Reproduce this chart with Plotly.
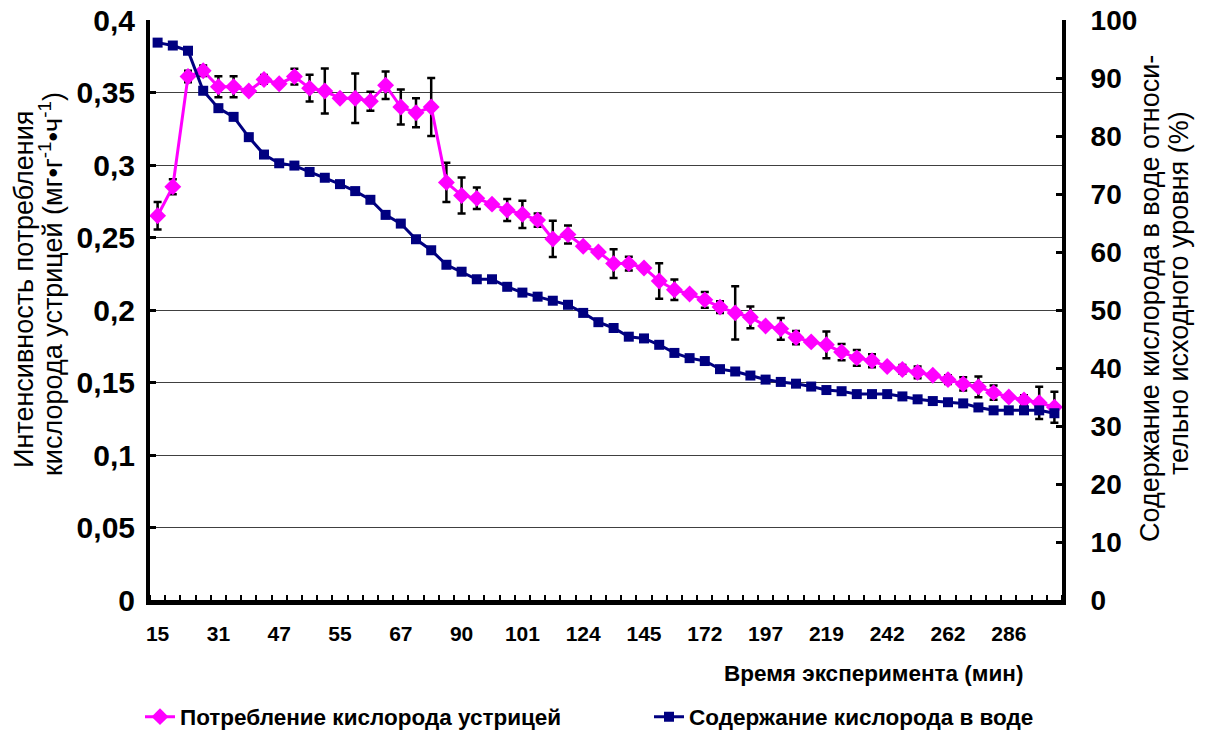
import plotly.graph_objects as go

tick_labels = ["15", "31", "47", "55", "67", "90", "101", "124", "145", "172",
               "197", "219", "242", "262", "286"]

consumption = [0.265, 0.285, 0.361, 0.365, 0.354, 0.354, 0.351, 0.359, 0.356, 0.361,
               0.353, 0.351, 0.346, 0.346, 0.344, 0.355, 0.340, 0.336, 0.340, 0.288,
               0.279, 0.277, 0.273, 0.269, 0.266, 0.262, 0.249, 0.252, 0.244, 0.240,
               0.232, 0.232, 0.229, 0.220, 0.214, 0.211, 0.207, 0.202, 0.198, 0.195,
               0.189, 0.187, 0.181, 0.178, 0.176, 0.171, 0.167, 0.165, 0.161, 0.159,
               0.157, 0.155, 0.152, 0.149, 0.147, 0.143, 0.140, 0.138, 0.136, 0.133]

consumption_err = [0.0094, 0.0052, 0.004, 0.0037, 0.0072, 0.0072, 0.0, 0.003, 0.0, 0.0054,
                   0.0092, 0.0155, 0.0, 0.0171, 0.0066, 0.0095, 0.012, 0.010, 0.020, 0.0135,
                   0.0124, 0.0074, 0.0, 0.0076, 0.0094, 0.0046, 0.0125, 0.0062, 0.0, 0.0,
                   0.0099, 0.0048, 0.0, 0.0123, 0.0071, 0.0, 0.0054, 0.004, 0.0184, 0.0075,
                   0.0, 0.0075, 0.0046, 0.0, 0.0092, 0.0056, 0.0055, 0.0045, 0.0, 0.003,
                   0.004, 0.0, 0.003, 0.0046, 0.0071, 0.0049, 0.0, 0.0032, 0.0111, 0.0107]

oxygen_pct = [96.1, 95.6, 94.7, 87.8, 84.8, 83.3, 79.8, 76.8, 75.3, 74.9,
              73.8, 72.8, 71.7, 70.5, 69.0, 66.4, 64.9, 62.2, 60.3, 57.8,
              56.6, 55.3, 55.3, 54.0, 53.0, 52.3, 51.6, 50.9, 49.5, 47.9,
              46.9, 45.4, 45.1, 44.0, 42.6, 41.7, 41.2, 39.8, 39.4, 38.7,
              38.0, 37.6, 37.3, 36.8, 36.2, 36.0, 35.5, 35.5, 35.5, 35.1,
              34.6, 34.3, 34.1, 33.9, 33.2, 32.7, 32.7, 32.7, 32.7, 32.2]

n = len(consumption)
xs = list(range(n))
tick_step = 4

FONT = "Liberation Sans, Arial, sans-serif"

W, H = 1206, 733
PL, PR, PT, PB = 150, 1062, 20, 600  # plot area in pixels
PW, PH = PR - PL, PB - PT


def px_x(x):
    return (x - PL) / PW


def px_y(y):
    return (PB - y) / PH


fig = go.Figure()
fig.add_trace(go.Scatter(
    x=xs, y=consumption, name="Потребление кислорода устрицей",
    mode="lines+markers",
    line=dict(color="#FF00FF", width=3),
    marker=dict(symbol="diamond", size=13, color="#FF00FF"),
    error_y=dict(type="data", array=consumption_err, visible=True,
                 color="black", thickness=2.5, width=4),
    yaxis="y",
))
fig.add_trace(go.Scatter(
    x=xs, y=oxygen_pct, name="Содержание кислорода в воде",
    mode="lines+markers",
    line=dict(color="#000080", width=3),
    marker=dict(symbol="square", size=10, color="#000080"),
    yaxis="y2",
))

title_font = dict(size=27, family=FONT)

fig.update_layout(
    width=W, height=H,
    margin=dict(l=PL, r=W - PR, t=PT, b=H - PB, autoexpand=False),
    paper_bgcolor="white", plot_bgcolor="white",
    separators=", ",
    font=dict(family=FONT, color="black"),
    showlegend=True,
    legend=dict(orientation="h", x=px_x(140), xanchor="left", y=px_y(717), yanchor="middle",
                font=dict(size=22.5, family=FONT, weight="bold"),
                entrywidth=464, entrywidthmode="pixels",
                bgcolor="rgba(0,0,0,0)"),
    xaxis=dict(
        range=[-0.5, n - 0.5],
        tickmode="array", tickvals=xs[::tick_step], ticktext=tick_labels,
        ticks="", showgrid=False, zeroline=False,
        showline=True, linecolor="black", linewidth=5,
        tickfont=dict(size=21, family=FONT, weight="bold"),
        ticklabelstandoff=11, ticklabeloverflow="allow",
        minor=dict(ticks="inside", ticklen=5, tickwidth=2, tickcolor="black",
                   tick0=0.5, dtick=1, showgrid=False),
    ),
    yaxis=dict(
        range=[0, 0.4], dtick=0.05, tick0=0,
        showgrid=True, gridcolor="#404040", gridwidth=1,
        zeroline=False, showline=True, linecolor="black", linewidth=4,
        ticks="inside", ticklen=6, tickwidth=3, tickcolor="black",
        tickfont=dict(size=30, family=FONT, weight="bold"),
        ticklabelstandoff=5, ticklabeloverflow="allow",
    ),
    yaxis2=dict(
        range=[0, 100], dtick=10, tick0=0, overlaying="y", side="right",
        showgrid=False, zeroline=False, showline=True, linecolor="black", linewidth=4,
        ticks="inside", ticklen=6, tickwidth=3, tickcolor="black",
        tickfont=dict(size=28, family=FONT, weight="bold"),
        ticklabelstandoff=19, ticklabeloverflow="allow",
    ),
    annotations=[
        dict(text="Время эксперимента (мин)", xref="paper", yref="paper",
             x=px_x(1025), y=px_y(673), xanchor="right", yanchor="middle",
             showarrow=False, font=dict(size=22.5, family=FONT, weight="bold")),
        dict(text="Интенсивность потребления",
             xref="paper", yref="paper", textangle=-90,
             x=px_x(24), y=px_y(290), xanchor="center", yanchor="middle",
             showarrow=False, font=title_font),
        dict(text="кислорода устрицей (мг•г<sup>-1</sup>•ч<sup>-1</sup>)",
             xref="paper", yref="paper", textangle=-90,
             x=px_x(51), y=px_y(284), xanchor="center", yanchor="middle",
             showarrow=False, font=title_font),
        dict(text="Содержание кислорода в воде относи-",
             xref="paper", yref="paper", textangle=-90,
             x=px_x(1150), y=px_y(299), xanchor="center", yanchor="middle",
             showarrow=False, font=title_font),
        dict(text="тельно исходного уровня (%)",
             xref="paper", yref="paper", textangle=-90,
             x=px_x(1179), y=px_y(293), xanchor="center", yanchor="middle",
             showarrow=False, font=title_font),
    ],
)

# remove the browser's default 8px page margin so the figure sits at the page origin
fig.write_html("out.html", config={"displayModeBar": False},
               post_script="document.body.style.margin='0';")
